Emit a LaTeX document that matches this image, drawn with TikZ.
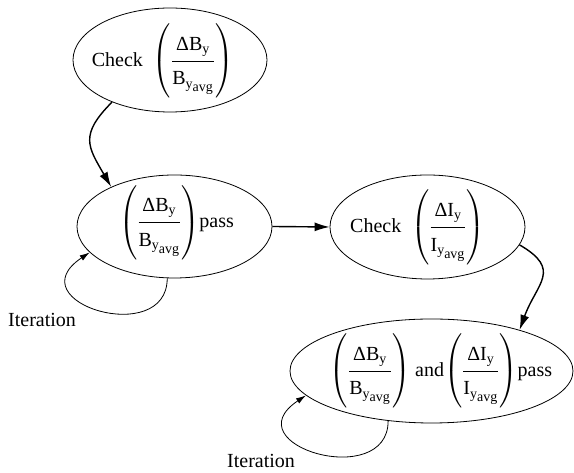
\documentclass[tikz,border=0pt]{standalone}
\usepackage{amsmath}
\usepackage{fontspec}
\setmainfont{Liberation Serif}
\usetikzlibrary{shapes.geometric,arrows.meta}
\DeclareMathSizes{20}{20}{14}{14}
\newcommand{\numstrut}{\rule[-8pt]{0pt}{8pt}}
\newcommand{\denstrut}{\rule{0pt}{21pt}}
\newcommand{\fracB}{\left(\dfrac{\text{ΔB}_{\text{y}}\numstrut}{\denstrut\text{B}_{\text{y}_{\text{avg}}}}\right)}
\newcommand{\fracI}{\left(\dfrac{\text{ΔI}_{\text{y}}\numstrut}{\denstrut\text{I}_{\text{y}_{\text{avg}}}}\right)}
\begin{document}
\begin{tikzpicture}[x=1pt,y=1pt,
  state/.style={draw, ellipse, line width=0.8pt, inner sep=0pt},
  lbl/.style={inner sep=0pt, font=\fontsize{20}{24}\selectfont},
  flow/.style={line width=1.4pt, -{Latex[length=15pt,width=9pt]}},
  iter/.style={line width=0.8pt, -{Latex[length=10pt,width=6pt]}}]
\useasboundingbox (0,0) rectangle (574,473);
\node[state, minimum width=194pt, minimum height=104pt] (e1) at (170,413) {};
\node[state, minimum width=195pt, minimum height=103pt] (e2) at (174.5,246.5) {};
\node[state, minimum width=195pt, minimum height=104pt] (e3) at (427.5,246) {};
\node[state, minimum width=283pt, minimum height=104pt] (e4) at (431.5,102) {};
\node[lbl] (t1) at (162.5,412) {Check\ \ $\fracB$};
\node[lbl] (t2) at (176.5,250.3) {$\fracB$pass};
\node[lbl] (t3) at (417.5,245.7) {Check\ \ $\fracI$};
\node[lbl] (t4) at (441,102) {$\fracB$\ and$\fracI$pass};
\node[lbl, anchor=base west] (i1) at (8,146) {Iteration};
\node[lbl, anchor=base west] (i2) at (227,5) {Iteration};
\draw[flow] (e1.216) to[out=225,in=120,looseness=1.4] (e2.148);
\draw[flow] (e2.east) -- (e3.west);
\draw[flow] (e3.-11) to[out=-30,in=70,looseness=1.5] (e4.25);
\draw[iter] (e2.262) .. controls +(0,-70) and +(-75,-50) .. (e2.197);
\draw[iter] (e4.229) .. controls +(0,-70) and +(-75,-50) .. (e4.191);
\end{tikzpicture}
\end{document}
